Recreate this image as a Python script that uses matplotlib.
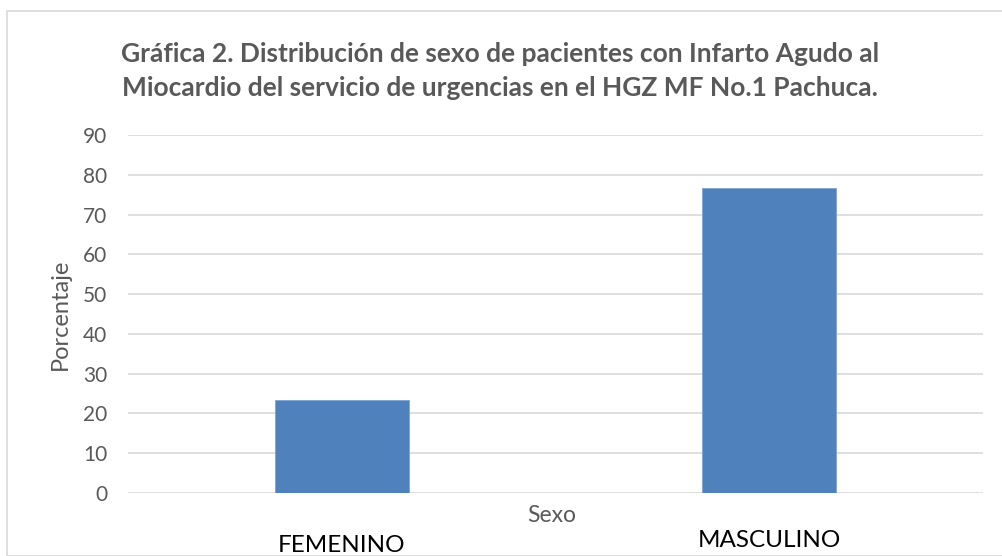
import matplotlib.pyplot as plt
from matplotlib.patches import Rectangle

# Datos de la gráfica
categorias = ['FEMENINO', 'MASCULINO']
porcentajes = [23.3, 76.7]
ticks_y = [0, 10, 20, 30, 40, 50, 60, 70, 80, 90]

titulo = ('Gráfica 2. Distribución de sexo de pacientes con Infarto Agudo al\n'
          'Miocardio del servicio de urgencias en el HGZ MF No.1 Pachuca.')

plt.rcParams['font.family'] = ['Lato', 'DejaVu Sans']
gris = '#595959'

fig = plt.figure(figsize=(10.02, 5.56), dpi=100)
ax = fig.add_axes([128 / 1002, 63 / 556, 855 / 1002, 358 / 556])

# borde del área del gráfico
fig.patches.append(Rectangle((7 / 1002, 0), 1.2, 545 / 556, transform=fig.transFigure,
                             fill=False, edgecolor='#d9d9d9', linewidth=1.2))

pos = range(len(categorias))
ax.bar(pos, porcentajes, width=0.314, color='#4f81bd', edgecolor='#7fa3d3',
       linewidth=0.6, zorder=3)

ax.set_xlim(-0.5, 1.5)
ax.set_ylim(0, 90)
ax.set_yticks(ticks_y)
ax.yaxis.grid(True, color='#d9d9d9', linewidth=1.2, zorder=0)
ax.set_axisbelow(True)
for s in ax.spines.values():
    s.set_visible(False)

ax.set_xticks(list(pos), categorias, fontsize=17.5, color='black')
ax.tick_params(axis='both', length=0)
ax.tick_params(axis='y', labelsize=15, labelcolor=gris, pad=15)
pads = [30, 26.5]
for t, p in zip(ax.xaxis.get_major_ticks(), pads):
    t.set_pad(p)

ax.set_xlabel('Sexo', fontsize=16.5, color=gris, va='center')
ax.xaxis.set_label_coords(0.495, -0.064)
ax.set_ylabel('Porcentaje', fontsize=17, color=gris, va='center')
ax.yaxis.set_label_coords(-0.0795, 0.5)

fig.text(500 / 1002, 1 - 71 / 556, titulo, ha='center', va='center',
         fontsize=19, fontweight='bold', color=gris, linespacing=1.55)

fig.savefig('out.png', dpi=100)
